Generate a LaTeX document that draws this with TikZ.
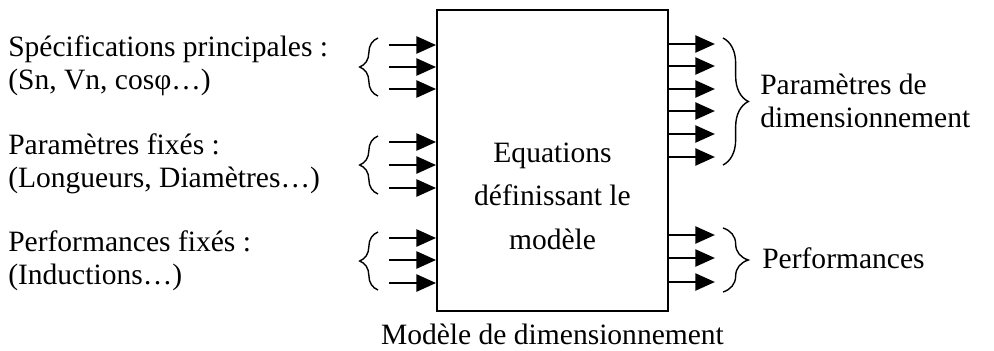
\documentclass[tikz,border=0pt]{standalone}
\usepackage{fontspec}
\setmainfont{Liberation Serif}
\usetikzlibrary{arrows.meta,decorations.pathreplacing}

\begin{document}
\begin{tikzpicture}[x=0.025cm, y=-0.025cm,
  font=\fontsize{21}{23.5}\selectfont,
  model/.style={draw, line width=1.2pt, minimum width=5.775cm, minimum height=7.525cm, inner sep=0pt},
  lbl/.style={align=left, anchor=west, inner sep=0pt},
  io/.style={-{Triangle[length=14pt,width=12pt]}, line width=2pt},
  lbrace/.style={decorate, decoration={brace, amplitude=13pt}, line width=1pt},
  rbrace/.style={decorate, decoration={brace, amplitude=18pt}, line width=1pt}]
\useasboundingbox (0,0) rectangle (994,350);
% model block
\node[model] (box) at (552.5,160.5) {};
\node[align=center, font=\fontsize{21}{31}\selectfont] (eqs) at (552.5,196) {Equations\\définissant le\\modèle};
\node (cap) at (552.5,334) {Modèle de dimensionnement};
% inputs
\node[lbl] (spec) at (8,66) {Spécifications principales :\\(Sn, Vn, cosφ…)};
\node[lbl] (fixe) at (8,164) {Paramètres fixés :\\(Longueurs, Diamètres…)};
\node[lbl] (perf) at (8,261) {Performances fixés :\\(Inductions…)};
\foreach \y [count=\i] in {45,67,89,142,165,188,238,260,283} {
  \coordinate (in\i) at (389,\y);
  \draw[io] (in\i) -- (in\i -| box.west);
}
\draw[lbrace] (378,96) -- (378,38);
\draw[lbrace] (378,194) -- (378,136);
\draw[lbrace] (378,290) -- (378,232);
% outputs
\foreach \y [count=\i] in {44,66,89,111,134,157,235,258,282} {
  \coordinate (out\i) at (715,\y);
  \draw[io] (out\i -| box.east) -- (out\i);
}
\draw[rbrace] (723,38) -- (723,165);
\draw[rbrace] (723,228) -- (723,292);
\node[lbl] (dim) at (760,101) {Paramètres de\\dimensionnement};
\node[lbl] (res) at (762,258) {Performances};
\end{tikzpicture}
\end{document}
